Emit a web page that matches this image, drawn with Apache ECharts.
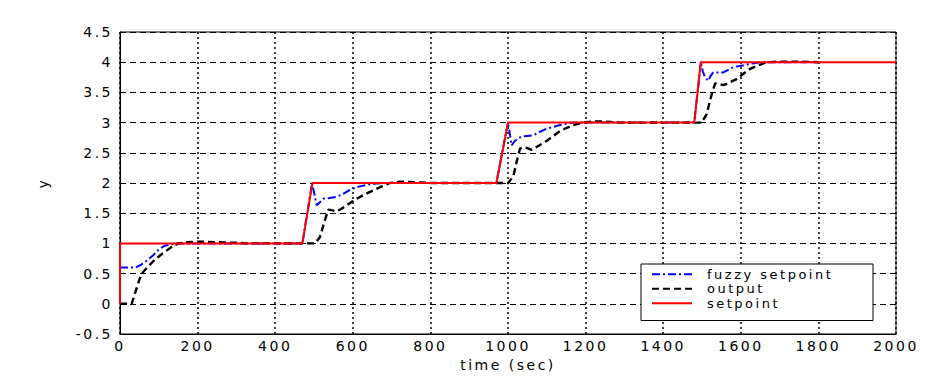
<!DOCTYPE html>
<html>
<head>
<meta charset="utf-8">
<script src="https://cdn.jsdelivr.net/npm/echarts@6/dist/echarts.min.js"></script>
<style>
  html, body { margin: 0; padding: 0; background: #fff; }
  #chart { width: 950px; height: 379px; letter-spacing: 2.5px; }
</style>
</head>
<body>
<div id="chart"></div>
<script>
// setpoint
const setT = [0, 0, 470, 496, 970, 1000, 1480, 1497, 2000]
const setY = [0, 1, 1, 2, 2, 3, 3, 4, 4]

// fuzzy setpoint
const fuzzyT = [0, 40, 55, 70, 85, 100, 115, 130, 145, 470, 495, 500, 507, 515, 524, 540, 558, 575, 597, 615, 636, 660, 687,
  970, 1000, 1004, 1009, 1018, 1035, 1050, 1065, 1080, 1100, 1117, 1134, 1150, 1168,
  1480, 1497, 1502, 1508, 1516, 1522, 1529, 1545, 1555, 1570, 1581, 1600, 1615, 1630, 1649, 1800]
const fuzzyY = [0.6, 0.6, 0.65, 0.72, 0.8, 0.9, 0.96, 0.98, 1.0, 1.0, 2.0, 1.85, 1.63, 1.68, 1.74, 1.75, 1.77, 1.82, 1.9, 1.94, 1.97, 1.99, 2.0,
  2.0, 3.0, 2.85, 2.62, 2.7, 2.77, 2.78, 2.79, 2.84, 2.9, 2.93, 2.96, 2.98, 3.0,
  3.0, 4.0, 3.85, 3.75, 3.69, 3.77, 3.83, 3.83, 3.83, 3.88, 3.92, 3.94, 3.96, 3.98, 4.0, 4.0]

// output
const outT = [0, 30, 40, 50, 56, 70, 85, 103, 120, 135, 150, 175, 200, 250, 300, 330,
  502, 515, 528, 537, 545, 558, 570, 584, 605, 627, 650, 670, 696, 720, 739, 773, 800,
  1001, 1014, 1023, 1031, 1040, 1048, 1061, 1080, 1100, 1117, 1134, 1150, 1168, 1194, 1220, 1240, 1265, 1290,
  1499, 1512, 1525, 1534, 1545, 1555, 1570, 1589, 1605, 1624, 1645, 1667, 1700, 1750, 1800]
const outY = [0, 0, 0.2, 0.4, 0.5, 0.6, 0.7, 0.8, 0.88, 0.95, 1.0, 1.02, 1.03, 1.02, 1.01, 1.0,
  1.0, 1.1, 1.38, 1.56, 1.55, 1.53, 1.57, 1.63, 1.72, 1.8, 1.87, 1.93, 2.0, 2.02, 2.02, 2.01, 2.0,
  2.0, 2.12, 2.37, 2.57, 2.59, 2.58, 2.55, 2.62, 2.7, 2.78, 2.86, 2.91, 2.96, 3.0, 3.02, 3.02, 3.01, 3.0,
  3.0, 3.14, 3.47, 3.65, 3.64, 3.62, 3.66, 3.72, 3.8, 3.89, 3.95, 4.0, 4.01, 4.01, 4.0]

const zip = (xs, ys) => xs.map((x, i) => [x, ys[i]])

const font = 'DejaVu Sans'
const chart = echarts.init(document.getElementById('chart'), null, { renderer: 'svg' })

const option = {
  animation: false,
  backgroundColor: '#fff',
  textStyle: { fontFamily: font },
  grid: {
    left: 120,
    right: 54,
    top: 32,
    bottom: 45,
    show: true,
    borderColor: '#000',
    borderWidth: 1,
    backgroundColor: '#fff'
  },
  legend: {
    orient: 'vertical',
    left: 641,
    top: 264,
    padding: [3, 10, 10, 10],
    itemGap: 0,
    itemWidth: 40,
    itemHeight: 14,
    backgroundColor: '#fff',
    borderColor: '#000',
    borderWidth: 1,
    borderRadius: 0,
    itemStyle: { opacity: 0 },
    textStyle: { fontFamily: font, fontSize: 13, color: '#000', lineHeight: 14.5, width: 156, padding: [0, 0, 0, 10] },
    data: ['fuzzy setpoint', 'output', 'setpoint']
  },
  xAxis: {
    type: 'value',
    min: 0,
    max: 2000,
    interval: 200,
    name: 'time (sec)',
    nameLocation: 'middle',
    nameGap: 9,
    nameTextStyle: { fontFamily: font, fontSize: 14, color: '#000' },
    axisLine: { onZero: false, lineStyle: { color: '#000', width: 1 } },
    axisTick: { show: false },
    axisLabel: { fontFamily: font, fontSize: 14, color: '#000', margin: 5, formatter: v => String(v) },
    splitLine: { lineStyle: { color: '#000', width: 1.5, type: [2, 3] } }
  },
  yAxis: {
    type: 'value',
    min: -0.5,
    max: 4.5,
    interval: 0.5,
    name: 'y',
    nameLocation: 'middle',
    nameGap: 70,
    nameRotate: 90,
    nameTextStyle: { fontFamily: font, fontSize: 14, color: '#000' },
    axisLine: { onZero: false, lineStyle: { color: '#000', width: 1 } },
    axisTick: { show: false },
    axisLabel: { fontFamily: font, fontSize: 14, color: '#000', margin: 7, formatter: v => String(v) },
    splitLine: { lineStyle: { color: '#000', width: 1, type: [6, 4] } }
  },
  series: [
    {
      name: 'fuzzy setpoint',
      type: 'line',
      symbol: 'none',
      data: zip(fuzzyT, fuzzyY),
      lineStyle: { color: '#0000ff', width: 2, type: [8, 3, 2, 3] },
      itemStyle: { color: '#0000ff' }
    },
    {
      name: 'output',
      type: 'line',
      symbol: 'none',
      data: zip(outT, outY),
      lineStyle: { color: '#000', width: 2.4, type: [7, 4] },
      itemStyle: { color: '#000' }
    },
    {
      name: 'setpoint',
      type: 'line',
      symbol: 'none',
      data: zip(setT, setY),
      lineStyle: { color: '#ff0000', width: 2 },
      itemStyle: { color: '#ff0000' }
    }
  ]
}

chart.setOption(option)
</script>
</body>
</html>
